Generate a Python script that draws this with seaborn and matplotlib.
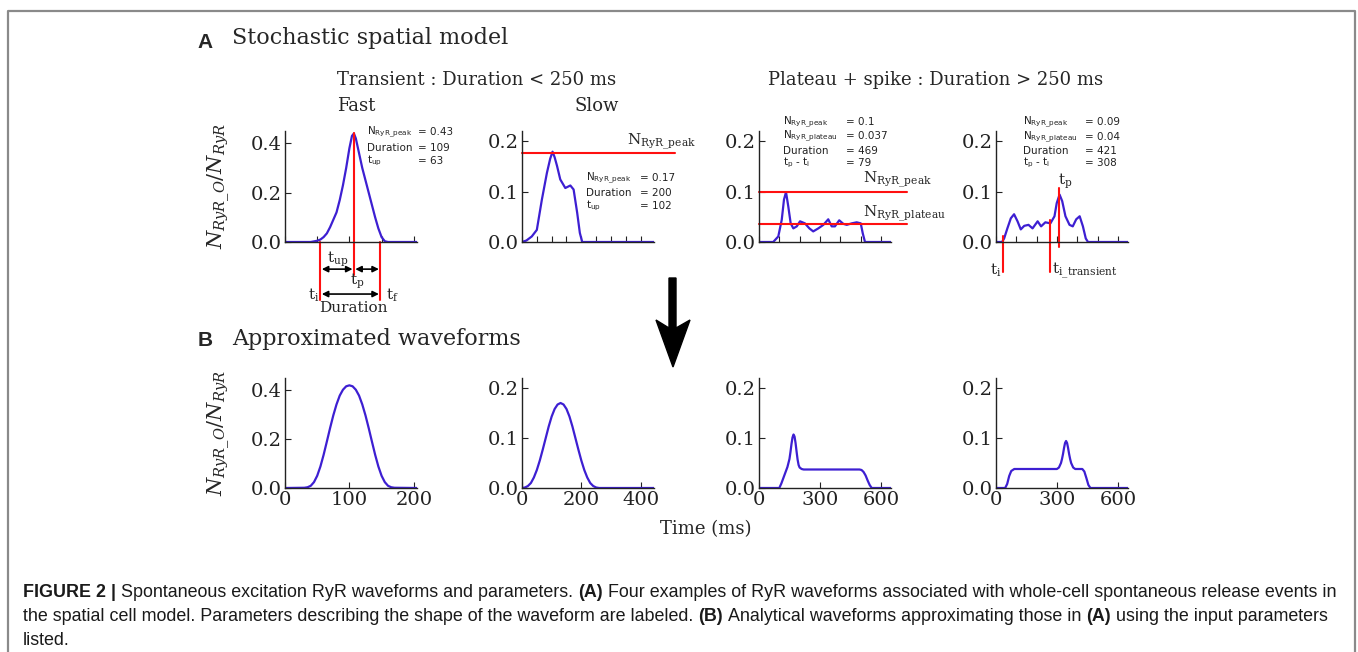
import matplotlib
matplotlib.use("Agg")
import matplotlib.pyplot as plt
import seaborn as sns
from matplotlib.lines import Line2D
from matplotlib.patches import Polygon

W, H = 1358, 652

# ---- waveforms (time in ms, fraction of open RyR) ----
# A: stochastic spatial model
fast_t = [0, 40, 50, 55, 60, 65, 70, 75, 80, 85, 90, 95, 100, 104, 107, 110, 115,
          120, 125, 130, 135, 140, 145, 150, 155, 160, 205]
fast_v = [0, 0, 0.005, 0.01, 0.02, 0.035, 0.06, 0.09, 0.12, 0.17, 0.23, 0.3, 0.38,
          0.43, 0.44, 0.42, 0.36, 0.3, 0.25, 0.2, 0.15, 0.1, 0.055, 0.02, 0.003, 0, 0]

slow_t = [0, 15, 33, 50, 67, 84, 95, 103, 110, 118, 129, 146, 163, 174, 186, 195, 203, 445]
slow_v = [0, 0.003, 0.011, 0.024, 0.084, 0.137, 0.165, 0.179, 0.168, 0.151, 0.124,
          0.107, 0.112, 0.104, 0.058, 0.018, 0, 0]

plat_t = [0, 70, 95, 112, 123, 133, 144, 156, 169, 186, 202, 226, 248, 267, 292, 317,
          341, 358, 374, 395, 415, 432, 457, 481, 501, 511, 522, 650]
plat_v = [0, 0, 0.011, 0.044, 0.084, 0.099, 0.071, 0.037, 0.027, 0.031, 0.041, 0.037,
          0.027, 0.021, 0.027, 0.034, 0.045, 0.031, 0.031, 0.043, 0.036, 0.034, 0.037,
          0.039, 0.037, 0.017, 0, 0]

spike_t = [0, 30, 40, 56, 73, 89, 106, 122, 139, 160, 180, 205, 222, 243, 268, 288,
           299, 313, 326, 342, 362, 378, 395, 412, 428, 442, 453, 650]
spike_v = [0, 0, 0.007, 0.027, 0.047, 0.055, 0.041, 0.025, 0.032, 0.034, 0.027, 0.041,
           0.031, 0.039, 0.037, 0.051, 0.077, 0.094, 0.081, 0.051, 0.034, 0.031, 0.045,
           0.051, 0.031, 0.007, 0, 0]

# B: approximated waveforms
afast_t = [0, 30, 35, 40, 45, 50, 55, 60, 65, 70, 75, 80, 85, 90, 95, 100, 105, 110,
           115, 120, 125, 130, 135, 140, 145, 150, 155, 160, 165, 170, 205]
afast_v = [0, 0.001, 0.003, 0.009, 0.024, 0.05, 0.088, 0.136, 0.19, 0.245, 0.297,
           0.342, 0.378, 0.402, 0.416, 0.42, 0.416, 0.402, 0.378, 0.342, 0.297, 0.245,
           0.19, 0.136, 0.088, 0.05, 0.024, 0.009, 0.003, 0.001, 0]

aslow_t = [0, 10, 20, 30, 40, 50, 60, 70, 80, 90, 100, 110, 120, 130, 140, 150, 160,
           170, 180, 190, 200, 210, 220, 230, 240, 250, 260, 445]
aslow_v = [0, 0.001, 0.004, 0.01, 0.021, 0.036, 0.055, 0.077, 0.1, 0.123, 0.143, 0.158,
           0.167, 0.17, 0.167, 0.158, 0.143, 0.123, 0.1, 0.077, 0.055, 0.036, 0.021,
           0.01, 0.004, 0.001, 0, 0]

aplat_t = [0, 100, 110, 120, 130, 140, 150, 155, 160, 165, 170, 175, 180, 185, 190,
           195, 200, 210, 220, 495, 505, 515, 525, 535, 545, 555, 650]
aplat_v = [0, 0, 0.009, 0.02, 0.031, 0.042, 0.058, 0.072, 0.088, 0.101, 0.107, 0.103,
           0.09, 0.073, 0.057, 0.046, 0.041, 0.038, 0.037, 0.037, 0.036, 0.032, 0.025,
           0.015, 0.006, 0, 0]

aspike_t = [0, 45, 55, 65, 75, 90, 300, 310, 320, 325, 330, 335, 340, 345, 350, 355,
            360, 365, 370, 380, 390, 425, 435, 445, 455, 465, 650]
aspike_v = [0, 0, 0.008, 0.024, 0.034, 0.038, 0.038, 0.041, 0.05, 0.058, 0.068, 0.08,
            0.09, 0.094, 0.09, 0.08, 0.068, 0.058, 0.05, 0.041, 0.038, 0.038, 0.033,
            0.02, 0.006, 0, 0]

# panel settings: x limit, x tick step, y limit, y ticks
xlims = [205, 445, 650, 650]
xsteps_top = [50, 50, 100, 100]
xticks_bottom = [[0, 100, 200], [0, 200, 400], [0, 300, 600], [0, 300, 600]]
ylims = [0.45, 0.22, 0.22, 0.22]
yticks = [[0, 0.2, 0.4], [0, 0.1, 0.2], [0, 0.1, 0.2], [0, 0.1, 0.2]]

# parameter boxes
params = [
    [("N$_{\\mathregular{RyR\\_peak}}$", "= 0.43"), ("Duration", "= 109"),
     ("t$_{\\mathregular{up}}$", "= 63")],
    [("N$_{\\mathregular{RyR\\_peak}}$", "= 0.17"), ("Duration", "= 200"),
     ("t$_{\\mathregular{up}}$", "= 102")],
    [("N$_{\\mathregular{RyR\\_peak}}$", "= 0.1"), ("N$_{\\mathregular{RyR\\_plateau}}$", "= 0.037"),
     ("Duration", "= 469"), ("t$_{\\mathregular{p}}$ - t$_{\\mathregular{i}}$", "= 79")],
    [("N$_{\\mathregular{RyR\\_peak}}$", "= 0.09"), ("N$_{\\mathregular{RyR\\_plateau}}$", "= 0.04"),
     ("Duration", "= 421"), ("t$_{\\mathregular{p}}$ - t$_{\\mathregular{i}}$", "= 308")],
]

BLUE = "#3d1fd2"
RED = "#ff1010"

sns.set_theme(style="ticks")
plt.rcParams.update({
    "font.family": ["DejaVu Serif"],
    "mathtext.fontset": "dejavuserif",
    "axes.edgecolor": "#222222",
    "axes.linewidth": 1.0,
    "xtick.direction": "in",
    "ytick.direction": "in",
    "xtick.color": "#222222",
    "ytick.color": "#222222",
})

fig = plt.figure(figsize=(W / 100, H / 100), dpi=100)


def fx(x):
    return x / W


def fy(y):
    return 1 - y / H


def add_ax(left, top, right, bottom):
    return fig.add_axes([fx(left), fy(bottom), (right - left) / W, (bottom - top) / H])


def style_ax(ax, i, labels):
    sns.despine(ax=ax)
    ax.set_xlim(0, xlims[i])
    ax.set_ylim(0, ylims[i])
    ax.set_yticks(yticks[i])
    ax.set_yticklabels([f"{v:.1f}" for v in yticks[i]])
    ax.tick_params(labelsize=14, length=4, width=0.8, pad=2)
    if labels:
        ax.set_xticks(xticks_bottom[i])
    else:
        ax.set_xticks(range(0, xlims[i] + 1, xsteps_top[i]))
        ax.set_xticklabels([])
    ax.set_xlabel("")
    ax.set_ylabel("")


lefts = [285, 522, 759, 996]
top_data = [(fast_t, fast_v), (slow_t, slow_v), (plat_t, plat_v), (spike_t, spike_v)]
bot_data = [(afast_t, afast_v), (aslow_t, aslow_v), (aplat_t, aplat_v), (aspike_t, aspike_v)]

top_axes, bot_axes = [], []
for i in range(4):
    ax = add_ax(lefts[i], 131, lefts[i] + 132, 242)
    sns.lineplot(x=top_data[i][0], y=top_data[i][1], ax=ax, color=BLUE, linewidth=1.6,
                 estimator=None, sort=False)
    style_ax(ax, i, False)
    top_axes.append(ax)

    ax = add_ax(lefts[i], 378, lefts[i] + 132, 488)
    sns.lineplot(x=bot_data[i][0], y=bot_data[i][1], ax=ax, color=BLUE, linewidth=1.6,
                 estimator=None, sort=False)
    style_ax(ax, i, True)
    bot_axes.append(ax)

ylab = r"$N_{RyR\_O}/N_{RyR}$"
for ax, yc in [(top_axes[0], 0.5), (bot_axes[0], 0.5)]:
    ax.set_ylabel(ylab, fontsize=15)
    ax.yaxis.set_label_coords(-0.40, yc)


def vline(ax, x, y0, y1):
    ax.add_line(Line2D([x, x], [y0, y1], color=RED, lw=1.5, clip_on=False))


def hline(ax, y, x0, x1):
    ax.add_line(Line2D([x0, x1], [y, y], color=RED, lw=1.5, clip_on=False))


def darrow(ax, x0, x1, y):
    ax.annotate("", xy=(x0, y), xytext=(x1, y), annotation_clip=False,
                arrowprops=dict(arrowstyle="<|-|>", color="black", lw=1.2,
                                mutation_scale=9, shrinkA=1, shrinkB=1))


def ftext(x, y, s, size=11, ha="left", va="center", **kw):
    return fig.text(fx(x), fy(y), s, fontsize=size, ha=ha, va=va, **kw)


# fast panel annotations
a0 = top_axes[0]
vline(a0, 55, 0.0, -0.235)
vline(a0, 107, 0.44, -0.134)
vline(a0, 148, 0.0, -0.235)
darrow(a0, 55, 107, -0.11)
darrow(a0, 107, 148, -0.11)
darrow(a0, 55, 148, -0.211)
ftext(338, 259, r"$\mathregular{t_{up}}$", ha="center")
ftext(357, 281, r"$\mathregular{t_{p}}$", ha="center")
ftext(319, 295, r"$\mathregular{t_{i}}$", ha="right")
ftext(386, 295, r"$\mathregular{t_{f}}$", ha="left")
ftext(353, 308, "Duration", ha="center")

# slow panel
hline(top_axes[1], 0.177, 0, 515)
ftext(627, 142, r"N$_{\mathregular{RyR\_peak}}$")

# plateau panel
hline(top_axes[2], 0.1, 0, 727)
hline(top_axes[2], 0.035, 0, 727)
ftext(863, 180, r"N$_{\mathregular{RyR\_peak}}$")
ftext(863, 214, r"N$_{\mathregular{RyR\_plateau}}$")

# plateau + spike panel
a3 = top_axes[3]
vline(a3, 36, 0.011, -0.059)
vline(a3, 268, 0.044, -0.059)
vline(a3, 309, 0.107, -0.009)
ftext(1065, 181, r"$\mathregular{t_{p}}$", ha="center")
ftext(996, 270, r"$\mathregular{t_{i}}$", ha="center")
ftext(1052, 271, r"$\mathregular{t_{i\_transient}}$")

# parameter lists
param_pos = [(367, 418, [132, 148, 161]), (586, 640, [178, 193, 206]),
             (783, 846, [122, 136, 151, 163]), (1023, 1085, [122, 137, 151, 163])]
for (xl, xv, ys), rows in zip(param_pos, params):
    for y, (lab, val) in zip(ys, rows):
        ftext(xl, y, lab, size=7.5, family="DejaVu Sans", color="#222222")
        ftext(xv, y, val, size=7.5, family="DejaVu Sans", color="#222222")

# headings
ftext(205, 42, "A", size=15, ha="center", family="Liberation Sans", weight="bold")
ftext(232, 38, "Stochastic spatial model", size=16)
ftext(477, 80, "Transient : Duration < 250 ms", size=13, ha="center")
ftext(356, 106, "Fast", size=13, ha="center")
ftext(597, 106, "Slow", size=13, ha="center")
ftext(936, 80, "Plateau + spike : Duration > 250 ms", size=13, ha="center")
ftext(205, 340, "B", size=15, ha="center", family="Liberation Sans", weight="bold")
ftext(232, 339, "Approximated waveforms", size=16)
ftext(706, 529, "Time (ms)", size=13, ha="center")

# big arrow between A and B
arrow_px = [(669, 278), (676, 278), (676, 328), (690, 320), (673, 367), (656, 320), (669, 328)]
fig.add_artist(Polygon([(fx(x), fy(y)) for x, y in arrow_px], closed=True,
                       transform=fig.transFigure, facecolor="black", edgecolor="black"))

# frame around the figure
fig.add_artist(Line2D([fx(8), fx(8), fx(1355), fx(1355)], [fy(660), fy(11), fy(11), fy(660)],
                      transform=fig.transFigure, color="#8a8a8a", lw=1.6))

# caption
caption_lines = [
    [("FIGURE 2 |", True), ("Spontaneous excitation RyR waveforms and parameters.", False),
     ("(A)", True), ("Four examples of RyR waveforms associated with whole-cell spontaneous release events in", False)],
    [("the spatial cell model. Parameters describing the shape of the waveform are labeled.", False),
     ("(B)", True), ("Analytical waveforms approximating those in", False), ("(A)", True),
     ("using the input parameters", False)],
    [("listed.", False)],
]
caption_y = [597, 621, 645]
renderer = fig.canvas.get_renderer()


def line_width(runs, size):
    total = 0
    for s, b in runs:
        t = fig.text(0, 0, s, fontsize=size, family="Liberation Sans",
                     weight="bold" if b else "normal")
        total += t.get_window_extent(renderer).width
        t.remove()
    return total + (len(runs) - 1) * 0.278 * size * 100 / 72


cap_size = 12.0 * 1317 / line_width(caption_lines[0], 12.0)
for runs, y in zip(caption_lines, caption_y):
    x = 23
    for s, b in runs:
        t = fig.text(fx(x), fy(y), s, fontsize=cap_size, family="Liberation Sans",
                     weight="bold" if b else "normal", va="baseline", color="#1a1a1a")
        x += t.get_window_extent(renderer).width + 0.278 * cap_size * 100 / 72

fig.savefig("out.png", dpi=100)
